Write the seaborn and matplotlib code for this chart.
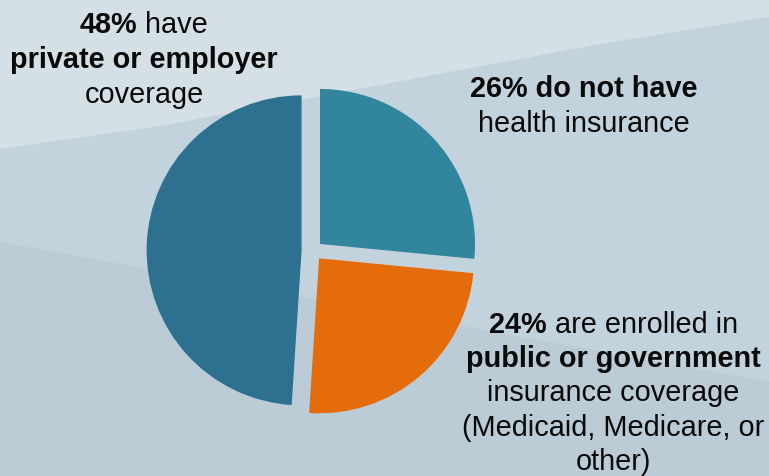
import matplotlib
matplotlib.use("Agg")
import matplotlib.pyplot as plt
import seaborn as sns

# Health coverage shares (percent), drawn counter-clockwise from 12 o'clock
categories = ["Private or employer", "Public or government", "No health insurance"]
shares = [48, 24, 26]
slice_colors = ["#2E7090", "#E46C0B", "#31869E"]

# Callout text: each line is a list of (text, bold) segments
label_private = [
    [("48%", True), ("have", False)],
    [("private or employer", True)],
    [("coverage", False)],
]
label_none = [
    [("26% do not have", True)],
    [("health insurance", False)],
]
label_public = [
    [("24%", True), ("are enrolled in", False)],
    [("public or government", True)],
    [("insurance coverage", False)],
    [("(Medicaid, Medicare, or", False)],
    [("other)", False)],
]

W, H = 769, 477
FS = 20.8
FONT = "Liberation Sans"

sns.set_theme(style="white")
plt.rcParams["font.family"] = [FONT, "DejaVu Sans"]

fig = plt.figure(figsize=(W / 100, H / 100), dpi=100)
ax = fig.add_axes([0, 0, 1, 1])

# Soft slate backdrop with two diagonal bands
ax.fill([0, W, W, 0], [0, 0, H, H], color="#BBCCD6", zorder=0, lw=0)
ax.fill([0, W, W, 0], [H - 243, H - 383, H, H], color="#C3D3DD", zorder=0, lw=0)
ax.fill([0, 160, 600, W, W, 0], [H - 150, H - 127, H - 45, H - 18, H, H],
        color="#D4DFE6", zorder=0, lw=0)

palette = sns.color_palette(slice_colors)
ax.pie(shares, colors=palette, startangle=90, counterclock=True,
       explode=[11, 10, 10], radius=155, center=(312.6, H - 251.7),
       wedgeprops=dict(linewidth=0), frame=False)

ax.set_xlim(0, W)
ax.set_ylim(0, H)
ax.set_aspect("auto")
ax.axis("off")

renderer = fig.canvas.get_renderer()
space_px = 0.278 * FS * 100 / 72


def draw_label(lines, cx, baselines):
    for segs, yb in zip(lines, baselines):
        objs, widths = [], []
        for txt, bold in segs:
            t = ax.text(0, H - yb, txt, fontsize=FS, family=FONT,
                        fontweight="bold" if bold else "normal",
                        ha="left", va="baseline", color="#0A0A0A", zorder=5)
            objs.append(t)
            widths.append(t.get_window_extent(renderer).width)
        total = sum(widths) + space_px * (len(objs) - 1)
        x = cx - total / 2
        for t, w in zip(objs, widths):
            t.set_x(x)
            x += w + space_px


draw_label(label_private, 144, [33, 68, 103])
draw_label(label_none, 584, [97, 132])
draw_label(label_public, 613.5, [333, 367, 401, 436, 470])

fig.savefig("out.png", dpi=100)
